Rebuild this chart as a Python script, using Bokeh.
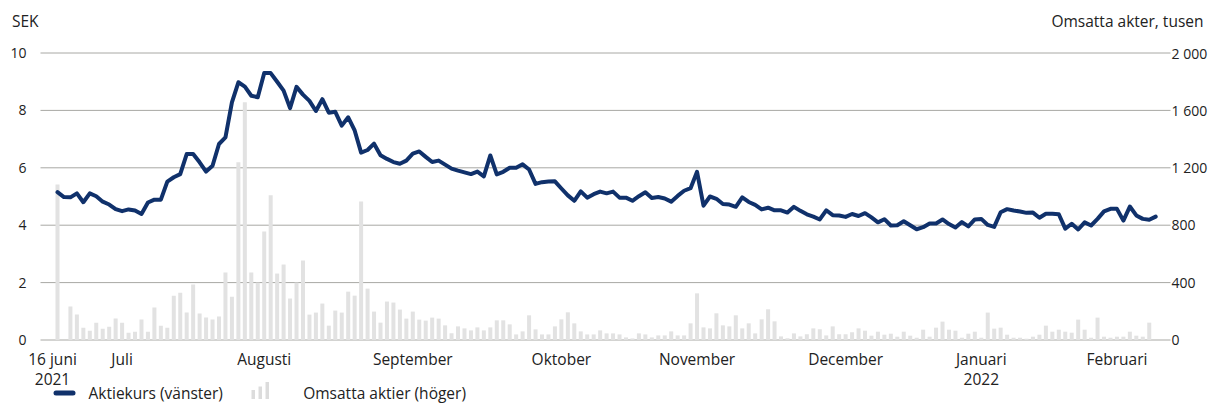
from bokeh.plotting import figure
from bokeh.models import Range1d, ColumnDataSource
from bokeh.embed import file_html
from bokeh.resources import INLINE
from bokeh.core.properties import value

# ---------------- data ----------------
price = [5.15, 4.98, 4.97, 5.11, 4.80, 5.11, 5.01, 4.82, 4.72, 4.56,
         4.49, 4.55, 4.51, 4.39, 4.79, 4.89, 4.89, 5.52, 5.67, 5.78,
         6.48, 6.48, 6.19, 5.87, 6.07, 6.83, 7.06, 8.28, 8.98, 8.83,
         8.51, 8.46, 9.30, 9.30, 9.00, 8.69, 8.08, 8.82, 8.55, 8.33,
         7.98, 8.39, 7.92, 7.95, 7.47, 7.76, 7.30, 6.53, 6.62, 6.84,
         6.44, 6.31, 6.20, 6.14, 6.25, 6.49, 6.57, 6.38, 6.20, 6.25,
         6.11, 5.97, 5.90, 5.84, 5.78, 5.87, 5.70, 6.43, 5.77, 5.86,
         6.00, 6.00, 6.12, 5.94, 5.44, 5.50, 5.52, 5.53, 5.28, 5.04,
         4.85, 5.18, 4.96, 5.08, 5.17, 5.11, 5.17, 4.96, 4.96, 4.85,
         5.01, 5.15, 4.95, 4.98, 4.93, 4.82, 5.02, 5.20, 5.29, 5.86,
         4.68, 5.00, 4.92, 4.74, 4.72, 4.64, 4.97, 4.81, 4.71, 4.55,
         4.61, 4.52, 4.52, 4.44, 4.64, 4.50, 4.38, 4.30, 4.20, 4.52,
         4.35, 4.34, 4.29, 4.39, 4.32, 4.42, 4.27, 4.10, 4.21, 3.99,
         4.00, 4.14, 4.00, 3.86, 3.93, 4.06, 4.06, 4.20, 4.04, 3.92,
         4.11, 3.96, 4.20, 4.22, 4.01, 3.94, 4.45, 4.56, 4.51, 4.48,
         4.43, 4.44, 4.26, 4.40, 4.40, 4.38, 3.88, 4.05, 3.85, 4.10,
         3.99, 4.22, 4.48, 4.57, 4.57, 4.16, 4.65, 4.34, 4.22, 4.19,
         4.30]

volume = [1084, 0, 233, 177, 86, 65, 121, 79, 93, 149,
          121, 51, 58, 142, 58, 226, 100, 86, 309, 330,
          191, 386, 184, 156, 142, 163, 470, 302, 1238, 1657,
          470, 400, 756, 1008, 463, 526, 289, 400, 554, 177,
          191, 254, 100, 205, 191, 337, 309, 966, 358, 198,
          121, 268, 261, 212, 149, 198, 142, 135, 156, 149,
          102, 47, 95, 81, 67, 88, 67, 88, 137, 137,
          109, 39, 60, 172, 74, 39, 39, 95, 144, 193,
          116, 60, 39, 39, 67, 46, 46, 39, 18, 11,
          46, 39, 18, 32, 32, 60, 32, 32, 116, 325,
          88, 81, 186, 102, 95, 172, 81, 116, 46, 144,
          214, 130, 25, 12, 46, 25, 40, 81, 75, 32,
          95, 40, 40, 54, 81, 65, 30, 58, 37, 44,
          23, 58, 30, 16, 72, 23, 86, 128, 72, 65,
          16, 44, 58, 16, 191, 79, 86, 37, 16, 16,
          9, 23, 37, 100, 58, 72, 58, 51, 142, 72,
          16, 156, 23, 16, 23, 23, 58, 30, 23, 121,
          0]

day = list(range(len(price)))

month_ticks = [0, 10, 32, 55, 78, 99, 122, 143, 164]
month_labels = ["16 juni", "Juli", "Augusti", "September", "Oktober",
                "November", "December", "Januari", "Februari"]
year_ticks = [0, 143]
year_labels = ["2021", "2022"]

left_ticks = [0, 2, 4, 6, 8, 10]
left_labels = ["0", "2", "4", "6", "8", "10"]
right_ticks = [0, 400, 800, 1200, 1600, 2000]
right_labels = ["0", "400", "800", "1 200", "1 600", "2 000"]

left_title = "SEK"
right_title = "Omsatta akter, tusen"
legend_line = "Aktiekurs (vänster)"
legend_bar = "Omsatta aktier (höger)"

# ---------------- styles / layout (pixels) ----------------
NAVY = "#10316b"
BAR = "#e2e2e2"
GRID = "#a8a8a4"
TXT = "#222222"
FONT = value("Open Sans")
FS_TXT = "15.5px"
FS_NUM = "14px"
W, H = 1208, 403

X0, DX = 57.0, 6.46        # pixel of day 0, pixels per trading day
Y0, DY = 339.5, 28.7       # pixel of price 0, pixels per SEK
PLOT_L, PLOT_R = 40, 1170  # plot-area edges in pixels
VOL_PER_SEK = 200.0        # right axis: 2000 tusen at 10 SEK
FIRST_SHIFT = -5           # first date label sits a little left of its tick

xr = Range1d((0 - X0) / DX, (W - X0) / DX)
yr = Range1d((Y0 - H) / DY, Y0 / DY)

p = figure(width=W, height=H, x_range=xr, y_range=yr, output_backend="svg",
           toolbar_location=None, x_axis_type=None, y_axis_type=None,
           min_border=0)
p.outline_line_color = None
p.background_fill_color = "white"
p.border_fill_color = "white"
p.xgrid.visible = False
p.ygrid.visible = False
p.extra_y_ranges = {"vol": Range1d(yr.start * VOL_PER_SEK, yr.end * VOL_PER_SEK),
                    "px": Range1d(H, 0)}
p.extra_x_ranges = {"px": Range1d(0, W)}

gx0 = (PLOT_L - X0) / DX
gx1 = (PLOT_R - X0) / DX

# horizontal grid lines at the left-axis ticks
p.segment(x0=[gx0] * len(left_ticks), x1=[gx1] * len(left_ticks),
          y0=left_ticks, y1=left_ticks, line_color=GRID, line_width=1)

src = ColumnDataSource(dict(day=day, price=price, volume=volume))
p.vbar(x="day", top="volume", bottom=0, width=0.62, source=src,
       y_range_name="vol", fill_color=BAR, line_color=None)
p.line(x="day", y="price", source=src, line_width=4, line_color=NAVY,
       line_join="round", line_cap="round")


def label(x, y, s, align, size, xrn="default", yrn="default", dx=None):
    data = dict(x=x, y=y, text=s, dx=dx if dx is not None else [0] * len(x))
    p.text(x="x", y="y", text="text", x_offset="dx",
           source=ColumnDataSource(data), x_range_name=xrn, y_range_name=yrn,
           text_font=FONT, text_font_size=size, text_color=TXT,
           text_align=align, text_baseline="middle")


def first_shift(ticks):
    return [FIRST_SHIFT if t == ticks[0] else 0 for t in ticks]


# left axis (SEK)
label([26] * len(left_ticks), left_ticks, left_labels, "right", FS_NUM, xrn="px")
# right axis (tusen)
label([1171] * len(right_ticks), right_ticks, right_labels, "left", FS_NUM,
      xrn="px", yrn="vol")
# time axis
label(month_ticks, [358] * len(month_ticks), month_labels, "center", FS_TXT,
      yrn="px", dx=first_shift(month_ticks))
label(year_ticks, [378] * len(year_ticks), year_labels, "center", FS_TXT,
      yrn="px", dx=first_shift(year_ticks))
# axis titles
label([11.5], [20], [left_title], "left", FS_TXT, xrn="px", yrn="px")
label([1203], [20], [right_title], "right", FS_TXT, xrn="px", yrn="px")

# legend
LY = 392.5
p.line(x=[55.5, 72.5], y=[LY, LY], x_range_name="px", y_range_name="px",
       line_width=5, line_color=NAVY, line_cap="round")
label([88], [LY], [legend_line], "left", FS_TXT, xrn="px", yrn="px")
p.quad(left=[251, 258, 265], right=[254.5, 261.5, 268.5],
       top=[LY - 3, LY - 6.5, LY - 11], bottom=[LY + 6] * 3,
       x_range_name="px", y_range_name="px", fill_color="#dcdcdc", line_color=None)
label([302.7], [LY], [legend_bar], "left", FS_TXT, xrn="px", yrn="px")

open("out.html", "w").write(file_html(p, INLINE))
